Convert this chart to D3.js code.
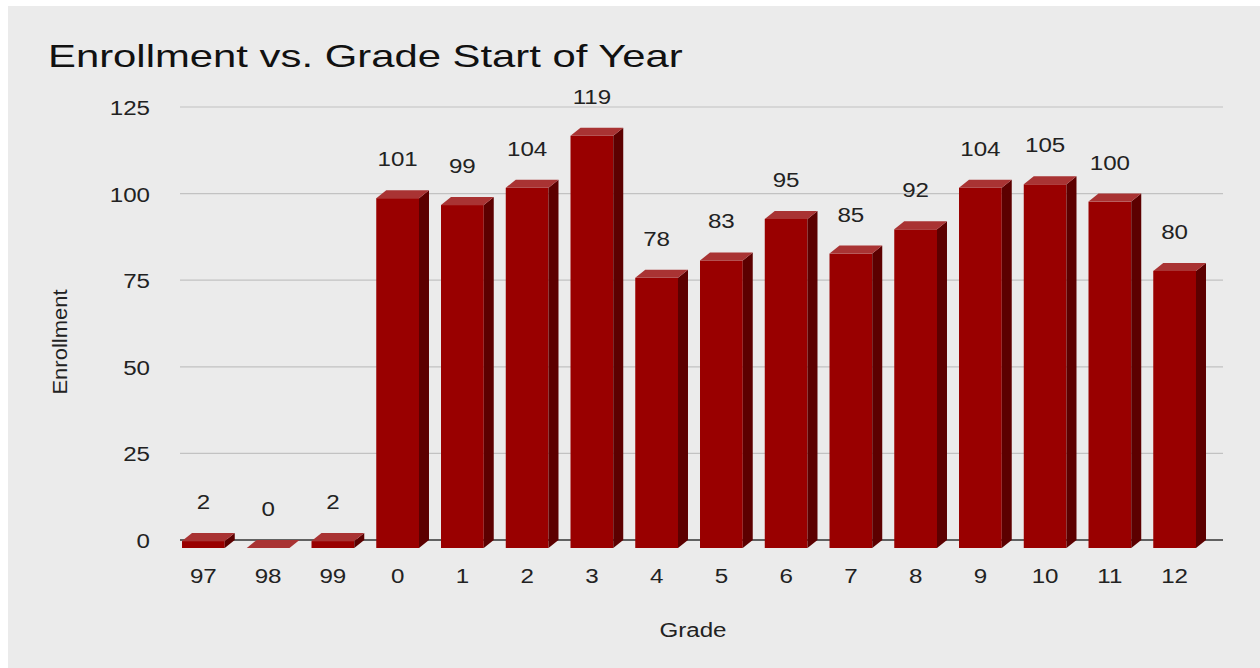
<!DOCTYPE html>
<html>
<head>
<meta charset="utf-8">
<script src="https://cdn.jsdelivr.net/npm/d3@7"></script>
<style>
  body { margin: 0; background: #fff; }
  svg { display: block; font-family: Arial, "Liberation Sans", sans-serif; }
</style>
</head>
<body>
<div id="chart"></div>
<script>
const grades = ['97', '98', '99', '0', '1', '2', '3', '4', '5', '6', '7', '8', '9', '10', '11', '12'];
const enrollment = [2, 0, 2, 101, 99, 104, 119, 78, 83, 95, 85, 92, 104, 105, 100, 80];
const yTicks = [0, 25, 50, 75, 100, 125];

const width = 1260, height = 668;
const depthX = 10, depthY = 8;
// the source picture is a bit wider than tall, so text is stretched sideways
const stretch = 1.15;

const svg = d3.select('#chart')
  .append('svg')
  .attr('width', width)
  .attr('height', height);

// chart background
svg.append('rect')
  .attr('x', 8).attr('y', 6)
  .attr('width', width - 8).attr('height', height - 6)
  .attr('fill', '#ebebeb');

const x = d3.scaleBand()
  .domain(grades)
  .range([171, 1207])
  .paddingInner(0.34)
  .paddingOuter(0.17);

const y = d3.scaleLinear()
  .domain([0, 125])
  .range([540, 107]);

// gridlines + tick labels
const grid = svg.append('g');
grid.selectAll('line')
  .data(yTicks)
  .enter()
  .append('line')
  .attr('x1', 180).attr('x2', 1223)
  .attr('y1', d => y(d)).attr('y2', d => y(d))
  .attr('stroke', d => d === 0 ? '#333' : '#c2c2c2')
  .attr('stroke-width', d => d === 0 ? 1.5 : 1.2);

grid.selectAll('text')
  .data(yTicks)
  .enter()
  .append('text')
  .attr('transform', d => `translate(150,${y(d) + 8}) scale(${stretch},1)`)
  .attr('text-anchor', 'end')
  .attr('font-size', 21)
  .attr('fill', '#222')
  .text(d => d);

// 3D bars: back face sits on the value, front face shifted down-left
const bars = svg.selectAll('g.bar')
  .data(grades.map((g, i) => ({ g, v: enrollment[i] })))
  .enter()
  .append('g')
  .attr('class', 'bar');

const fx = d => x(d.g);
const bw = x.bandwidth();
const fTop = d => y(d.v) + depthY;
const fBot = y(0) + depthY;

bars.append('rect')
  .attr('x', fx)
  .attr('y', fTop)
  .attr('width', bw)
  .attr('height', d => fBot - fTop(d))
  .attr('fill', '#990000');

bars.append('path')
  .attr('d', d => {
    const x0 = fx(d) + bw;
    return `M${x0},${fTop(d)}L${x0 + depthX},${fTop(d) - depthY}L${x0 + depthX},${fBot - depthY}L${x0},${fBot}Z`;
  })
  .attr('fill', '#5c0000');

bars.append('path')
  .attr('d', d => {
    const x0 = fx(d), t = fTop(d);
    return `M${x0},${t}L${x0 + depthX},${t - depthY}L${x0 + bw + depthX},${t - depthY}L${x0 + bw},${t}Z`;
  })
  .attr('fill', '#a93333');

// data labels
bars.append('text')
  .attr('transform', d => `translate(${fx(d) + bw / 2},${y(d.v) - 24}) scale(${stretch},1)`)
  .attr('text-anchor', 'middle')
  .attr('font-size', 21)
  .attr('fill', '#222')
  .text(d => d.v);

// category labels
svg.append('g')
  .selectAll('text')
  .data(grades)
  .enter()
  .append('text')
  .attr('transform', d => `translate(${x(d) + bw / 2},583) scale(${stretch},1)`)
  .attr('text-anchor', 'middle')
  .attr('font-size', 21)
  .attr('fill', '#222')
  .text(d => d);

// titles
svg.append('text')
  .attr('transform', 'translate(48,67) scale(1.35,1)')
  .attr('font-size', 31)
  .attr('fill', '#111')
  .text('Enrollment vs. Grade Start of Year');

svg.append('text')
  .attr('transform', `translate(693,637) scale(${stretch},1)`)
  .attr('text-anchor', 'middle')
  .attr('font-size', 21)
  .attr('fill', '#222')
  .text('Grade');

svg.append('text')
  .attr('transform', 'translate(67,342) rotate(-90) scale(1.1,1)')
  .attr('text-anchor', 'middle')
  .attr('font-size', 20)
  .attr('fill', '#222')
  .text('Enrollment');
</script>
</body>
</html>
